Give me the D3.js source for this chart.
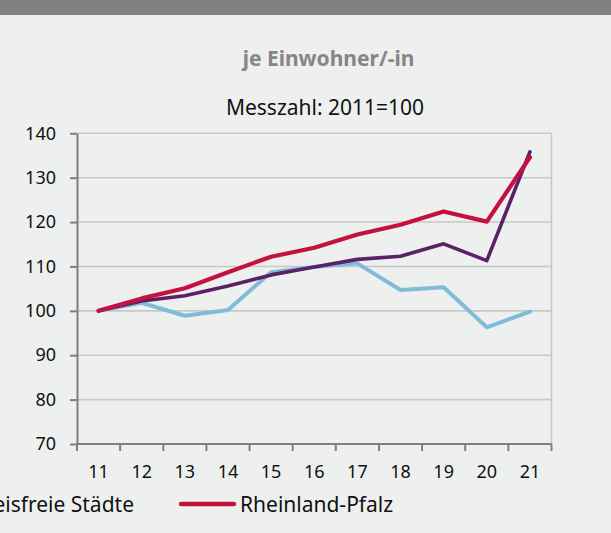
<!DOCTYPE html>
<html>
<head>
<meta charset="utf-8">
<script src="https://cdn.jsdelivr.net/npm/d3@7"></script>
<style>
  html, body { margin: 0; padding: 0; background: #eef0ef; }
  svg { display: block; }
  text { font-family: "Noto Sans", "Open Sans", sans-serif; }
</style>
</head>
<body>
<svg id="chart" width="611" height="533"></svg>
<script>
const years = ["11", "12", "13", "14", "15", "16", "17", "18", "19", "20", "21"];
const kreisfreieStaedte = [100, 101.8, 98.9, 100.2, 108.7, 109.9, 110.7, 104.7, 105.3, 96.3, 99.8];
const landkreise = [100, 102.2, 103.4, 105.6, 108.1, 109.9, 111.6, 112.3, 115.1, 111.3, 135.8];
const rheinlandPfalz = [100, 102.8, 105.1, 108.7, 112.2, 114.2, 117.2, 119.4, 122.4, 120.1, 134.6];
const yTicks = [70, 80, 90, 100, 110, 120, 130, 140];
const title = "je Einwohner/-in";
const subtitle = "Messzahl: 2011=100";
const legendLabels = ["Kreisfreie Städte", "Rheinland-Pfalz"];

const W = 611, H = 533;
const plot = { left: 77, right: 551.5, top: 133.3, bottom: 444 };

const svg = d3.select("#chart");
svg.append("rect").attr("width", W).attr("height", H).attr("fill", "#eef0ef");
svg.append("rect").attr("width", W).attr("height", 15).attr("fill", "#808080");

const x = d3.scaleBand().domain(years).range([plot.left, plot.right]).padding(0);
const y = d3.scaleLinear().domain([70, 140]).range([plot.bottom, plot.top]);

// titles
svg.append("text").attr("x", 328.5).attr("y", 65.7).attr("text-anchor", "middle")
  .attr("font-size", 21).attr("font-weight", "bold").attr("fill", "#868686").text(title);
svg.append("text").attr("x", 325).attr("y", 115).attr("text-anchor", "middle")
  .attr("font-size", 21).attr("fill", "#111").text(subtitle);

// gridlines
svg.append("g").selectAll("line").data(yTicks.filter(d => d > 70)).join("line")
  .attr("x1", plot.left).attr("x2", plot.right)
  .attr("y1", d => y(d)).attr("y2", d => y(d))
  .attr("stroke", "#c8c8c8").attr("stroke-width", 1.6);
// right border
svg.append("line").attr("x1", plot.right).attr("x2", plot.right)
  .attr("y1", plot.top).attr("y2", plot.bottom)
  .attr("stroke", "#c8c8c8").attr("stroke-width", 1.6);

// y axis
const yAxis = svg.append("g").attr("transform", `translate(${plot.left},0)`)
  .call(d3.axisLeft(y).tickValues(yTicks).tickSize(7).tickSizeOuter(0).tickPadding(14));
yAxis.select(".domain").attr("stroke", "#7f7f7f").attr("stroke-width", 2);
yAxis.selectAll(".tick line").attr("stroke", "#7f7f7f").attr("stroke-width", 2);
yAxis.selectAll(".tick text").attr("font-size", 18).attr("fill", "#111")
  .attr("font-family", "Noto Sans, sans-serif");

// x axis
const xAxis = svg.append("g").attr("transform", `translate(0,${plot.bottom})`)
  .call(d3.axisBottom(x).tickSize(0).tickPadding(0));
xAxis.select(".domain").remove();
xAxis.append("line").attr("x1", plot.left - 1).attr("x2", plot.right)
  .attr("stroke", "#7f7f7f").attr("stroke-width", 2);
const bounds = years.map(d => x(d)).concat([plot.right]);
xAxis.selectAll("line.tk").data(bounds).join("line").attr("class", "tk")
  .attr("x1", d => d).attr("x2", d => d).attr("y1", 0).attr("y2", 7)
  .attr("stroke", "#7f7f7f").attr("stroke-width", 2);
xAxis.selectAll(".tick text").attr("font-size", 18).attr("fill", "#111")
  .attr("font-family", "Noto Sans, sans-serif")
  .attr("dy", null).attr("y", 34);

// lines
const lineGen = d3.line().x((d, i) => x(years[i]) + x.bandwidth() / 2).y(d => y(d));
const series = [
  { values: kreisfreieStaedte, color: "#7fbcd8", width: 4 },
  { values: landkreise, color: "#5b2166", width: 3.6 },
  { values: rheinlandPfalz, color: "#c3123f", width: 4.2 }
];
svg.append("g").selectAll("path").data(series).join("path")
  .attr("d", d => lineGen(d.values))
  .attr("fill", "none").attr("stroke", d => d.color).attr("stroke-width", d => d.width)
  .attr("stroke-linejoin", "round").attr("stroke-linecap", "round");

// legend
const lg = svg.append("g");
lg.append("line").attr("x1", -80).attr("x2", -25).attr("y1", 504).attr("y2", 504)
  .attr("stroke", "#7fbcd8").attr("stroke-width", 4.5);
lg.append("text").attr("x", 134).attr("y", 512).attr("text-anchor", "end")
  .attr("font-size", 21).attr("fill", "#111").text(legendLabels[0]);
lg.append("line").attr("x1", 181).attr("x2", 234).attr("y1", 504).attr("y2", 504)
  .attr("stroke", "#c3123f").attr("stroke-width", 4.5).attr("stroke-linecap", "round");
lg.append("text").attr("x", 240).attr("y", 512)
  .attr("font-size", 21).attr("fill", "#111").text(legendLabels[1]);
</script>
</body>
</html>
